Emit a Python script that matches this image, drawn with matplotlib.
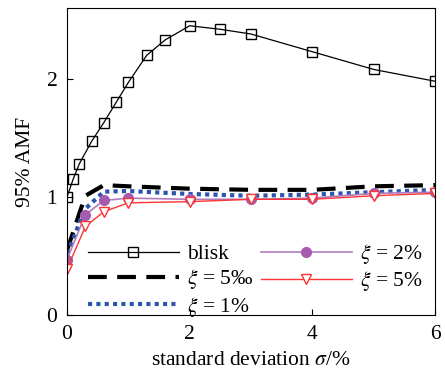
import numpy as np
import matplotlib.pyplot as plt

plt.rcParams['font.family'] = ['Liberation Serif', 'DejaVu Serif']
plt.rcParams['mathtext.fontset'] = 'stix'

x_blisk = [0, 0.1, 0.2, 0.4, 0.6, 0.8, 1.0, 1.3, 1.6, 2.0, 2.5, 3.0, 4.0, 5.0, 6.0]
y_blisk = [1.0, 1.15, 1.28, 1.47, 1.63, 1.80, 1.97, 2.20, 2.33, 2.45, 2.42, 2.38, 2.23, 2.08, 1.98]

x_mis = [0, 0.1, 0.2, 0.3, 0.6, 1.0, 2.0, 3.0, 4.0, 5.0, 6.0]
y_05 = [0.55, 0.70, 0.86, 1.01, 1.10, 1.09, 1.07, 1.06, 1.06, 1.09, 1.10]
y_1 = [0.52, 0.64, 0.78, 0.90, 1.045, 1.05, 1.025, 1.01, 1.02, 1.04, 1.06]

x_pts = [0, 0.3, 0.6, 1.0, 2.0, 3.0, 4.0, 5.0, 6.0]
y_2 = [0.47, 0.85, 0.97, 0.99, 0.98, 0.98, 0.99, 1.03, 1.04]
y_5 = [0.39, 0.75, 0.875, 0.95, 0.96, 0.98, 0.98, 1.01, 1.03]

fig = plt.figure(figsize=(4.45, 3.78), dpi=100)
ax = fig.add_axes([0.1506, 0.1667, 0.827, 0.812])

ax.plot(x_blisk, y_blisk, '-', color='black', lw=0.9, marker='s', ms=7,
        mfc='none', mec='black', mew=1.0, label='blisk')
ax.plot(x_mis, y_05, color='black', lw=3, dashes=(4.5, 2.5), label='$\\xi$ = 5‰')
ax.plot(x_mis, y_1, color='#2a56b0', lw=3, dashes=(1, 1), label='$\\xi$ = 1%')
ax.plot(x_pts, y_2, '-', color='#b07cc0', lw=1.2, marker='o', ms=7,
        mfc='#a55cae', mec='#a55cae', label='$\\xi$ = 2%')
ax.plot(x_pts, y_5, '-', color='#ff3333', lw=1.0, marker='v', ms=7,
        mfc='white', mec='#ff3333', mew=1.0, label='$\\xi$ = 5%')

ax.legend(ncol=2, frameon=False, fontsize=15.5, handlelength=4.2,
          columnspacing=0.35, handletextpad=0.4, labelspacing=0.15,
          loc='lower left', bbox_to_anchor=(0.005, -0.075))

ax.set_xlim(0, 6)
ax.set_ylim(0, 2.6)
ax.set_xticks([0, 2, 4, 6])
ax.set_yticks([0, 1, 2])
ax.tick_params(direction='in', labelsize=15.5, length=4, pad=7)
ax.set_xlabel('standard deviation $\\sigma$/%', fontsize=15.5, labelpad=5)
ax.set_ylabel('95% AMF', fontsize=15.5, labelpad=8)

fig.savefig('out.png', dpi=100)
